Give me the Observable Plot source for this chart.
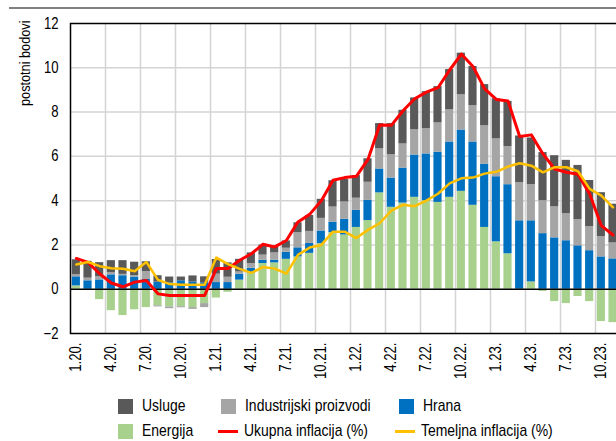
<!DOCTYPE html>
<html><head><meta charset="utf-8">
<script src="https://cdn.jsdelivr.net/npm/d3@7"></script>
<script src="https://cdn.jsdelivr.net/npm/@observablehq/plot@0.6"></script>
<style>
html,body{margin:0;padding:0;background:#fff;}
body{width:616px;height:441px;overflow:hidden;position:relative;font-family:"Liberation Sans",Arial,sans-serif;color:#000;}
#rule{position:absolute;left:9px;right:0;top:7px;height:2px;background:#808080;}
#chart{position:absolute;left:0;top:0;width:640px;}
#chart svg{max-width:none !important;}
.li{position:absolute;display:flex;align-items:center;font-size:17px;line-height:20px;white-space:nowrap;}
.sw{width:15px;height:15px;margin-right:9px;flex:none;}
.ln{width:20px;height:3px;margin-right:6px;flex:none;}
.tx{display:inline-block;transform:scaleX(0.82);transform-origin:left center;}
</style></head>
<body>
<div id="rule"></div>
<div id="chart"></div>
<div id="legend"></div>
<script>
const months = ["1.20.","2.20.","3.20.","4.20.","5.20.","6.20.","7.20.","8.20.","9.20.","10.20.","11.20.","12.20.",
"1.21.","2.21.","3.21.","4.21.","5.21.","6.21.","7.21.","8.21.","9.21.","10.21.","11.21.","12.21.",
"1.22.","2.22.","3.22.","4.22.","5.22.","6.22.","7.22.","8.22.","9.22.","10.22.","11.22.","12.22.",
"1.23.","2.23.","3.23.","4.23.","5.23.","6.23.","7.23.","8.23.","9.23.","10.23.","11.23.","12.23."];
const tickMonths = ["1.20.","4.20.","7.20.","10.20.","1.21.","4.21.","7.21.","10.21.","1.22.","4.22.","7.22.","10.22.","1.23.","4.23.","7.23.","10.23."];
const yTicks = [-2,0,2,4,6,8,10,12];
const gridY = [2,4,6,8,10];
const seriesNames = ["Energija","Hrana","Industrijski proizvodi","Usluge"];
const seriesColors = ["#a9d18e","#0070c0","#a5a5a5","#595959"];

const energija = [0.15,-0.03,-0.47,-0.97,-1.19,-0.93,-0.83,-0.75,-0.8,-0.79,-0.83,-0.65,
 -0.4,-0.14,0.41,0.74,1.16,1.19,1.35,1.46,1.62,2.06,2.56,2.45,
 2.79,3.1,4.35,3.7,3.89,4.15,4.0,3.92,4.15,4.42,3.79,2.79,
 2.14,1.6,-0.05,0.33,-0.1,-0.56,-0.65,-0.33,-0.56,-1.46,-1.51];
const hrana = [0.41,0.38,0.42,0.65,0.61,0.55,0.44,0.32,0.29,0.38,0.33,0.29,
 0.3,0.3,0.27,0.21,0.15,0.12,0.32,0.41,0.45,0.57,0.47,0.71,
 0.77,0.91,1.08,1.32,1.58,1.91,2.11,2.27,2.5,2.77,2.86,2.86,
 2.94,3.12,3.09,2.76,2.51,2.32,2.19,1.96,1.74,1.46,1.37];
const industrijski = [0.09,0.12,0.14,0.09,0.06,0.06,0.36,-0.05,-0.08,-0.05,-0.08,-0.18,
 0.38,0.24,0.1,0.21,0.23,0.33,0.18,0.68,0.54,0.57,0.68,0.78,
 0.55,0.82,0.91,1.05,1.09,1.14,1.14,1.32,1.45,1.59,1.64,1.73,
 1.71,1.72,1.72,1.63,1.49,1.4,1.22,1.18,1.09,0.91,0.72];
const usluge = [0.68,0.76,0.64,0.55,0.62,0.61,0.44,0.29,0.26,0.17,0.27,0.27,
 0.66,0.65,0.57,0.48,0.45,0.3,0.33,0.45,0.72,0.86,1.19,1.02,
 1.02,1.06,1.14,1.41,1.52,1.44,1.67,1.64,1.82,1.88,1.77,1.86,
 1.81,2.04,2.11,2.11,2.17,2.31,2.41,2.45,2.08,1.99,1.75];
const ukupna = [1.39,1.21,0.7,0.28,0.11,0.32,0.39,-0.21,-0.28,-0.28,-0.28,-0.28,
 0.93,0.93,1.31,1.6,2.03,1.91,2.2,3.04,3.38,4.0,4.92,5.04,
 5.1,5.86,7.42,7.4,8.06,8.6,8.9,9.1,9.9,10.62,10.06,9.05,
 8.57,8.5,6.9,6.97,6.11,5.43,5.28,5.19,4.3,2.87,2.45];
const temeljna = [1.12,1.23,1.04,0.95,0.92,0.81,1.23,0.42,0.23,0.2,0.2,0.2,
 1.43,1.13,0.92,0.74,1.0,0.93,0.7,1.55,1.88,2.0,2.6,2.6,
 2.31,2.68,2.98,3.55,3.81,3.75,4.0,4.31,4.78,5.01,5.04,5.22,
 5.3,5.54,5.69,5.58,5.28,5.51,5.51,5.33,4.53,4.23,3.7];

const comps = [energija, hrana, industrijski, usluge];
const stacked = [];
energija.forEach((_, i) => comps.forEach((arr, s) => stacked.push({month: months[i], series: seriesNames[s], value: arr[i]})));
const lineUk = ukupna.map((v, i) => ({month: months[i], value: v}));
const lineTem = temeljna.map((v, i) => ({month: months[i], value: v}));
const quarterBounds = months.filter((m, i) => i > 0 && i % 3 === 0);

const W = 640, ML = 70, MR = 10;
const step = (W - ML - MR) / months.length;

const chart = Plot.plot({
  width: W, height: 396,
  marginLeft: ML, marginRight: MR, marginTop: 23, marginBottom: 63,
  style: {fontFamily: "'Liberation Sans',Arial,sans-serif", fontSize: "16px", color: "#000", background: "transparent", overflow: "visible", maxWidth: "none"},
  x: {type: "band", domain: months, paddingInner: 0.3, paddingOuter: 0.15, ticks: tickMonths, tickRotate: -90, tickSize: 0, tickPadding: 9, label: null},
  y: {domain: [-2, 12], ticks: yTicks, tickSize: 0, tickPadding: 12, label: null},
  color: {domain: seriesNames, range: seriesColors},
  marks: [
    Plot.ruleY(gridY, {stroke: "#d4d4d4", strokeWidth: 1.5}),
    Plot.ruleX(quarterBounds, {x: d => d, dx: -step / 2, stroke: "#d4d4d4", strokeWidth: 1.5}),
    Plot.barY(stacked, {x: "month", y: "value", fill: "series"}),
    Plot.ruleY([0], {stroke: "#000", strokeWidth: 1.5}),
    Plot.line(lineUk, {x: "month", y: "value", stroke: "#ff0000", strokeWidth: 3}),
    Plot.line(lineTem, {x: "month", y: "value", stroke: "#ffc000", strokeWidth: 2.5}),
    Plot.frame({stroke: "#000", strokeWidth: 1.5}),
    Plot.text(["postotni bodovi"], {text: d => d, frameAnchor: "top-left", dx: -52, dy: -3, rotate: -90, textAnchor: "end", fontSize: 15.5, fill: "#000"})
  ]
});
chart.style.maxWidth = "none";
document.getElementById("chart").appendChild(chart);

// narrow the lettering (condensed face is not installed)
chart.querySelectorAll("text").forEach(t => {
  const spans = t.querySelectorAll("tspan");
  const els = spans.length ? Array.from(spans) : [t];
  els.forEach(el => {
    const L = el.getComputedTextLength();
    if (L > 0) {
      el.setAttribute("textLength", (L * 0.82).toFixed(2));
      el.setAttribute("lengthAdjust", "spacingAndGlyphs");
    }
  });
});

const legendItems = [
  {name: "Usluge", kind: "sw", color: "#595959", left: 118, top: 396},
  {name: "Industrijski proizvodi", kind: "sw", color: "#a5a5a5", left: 221, top: 396},
  {name: "Hrana", kind: "sw", color: "#0070c0", left: 399, top: 396},
  {name: "Energija", kind: "sw", color: "#a9d18e", left: 118, top: 421},
  {name: "Ukupna inflacija (%)", kind: "ln", color: "#ff0000", left: 218, top: 421},
  {name: "Temeljna inflacija (%)", kind: "ln", color: "#ffc000", left: 395, top: 421}
];
const lg = document.getElementById("legend");
legendItems.forEach(it => {
  const d = document.createElement("div");
  d.className = "li";
  d.style.left = it.left + "px";
  d.style.top = it.top + "px";
  const s = document.createElement("span");
  s.className = it.kind;
  s.style.background = it.color;
  d.appendChild(s);
  const tx = document.createElement("span");
  tx.className = "tx";
  tx.textContent = it.name;
  d.appendChild(tx);
  lg.appendChild(d);
});
</script>
</body></html>
